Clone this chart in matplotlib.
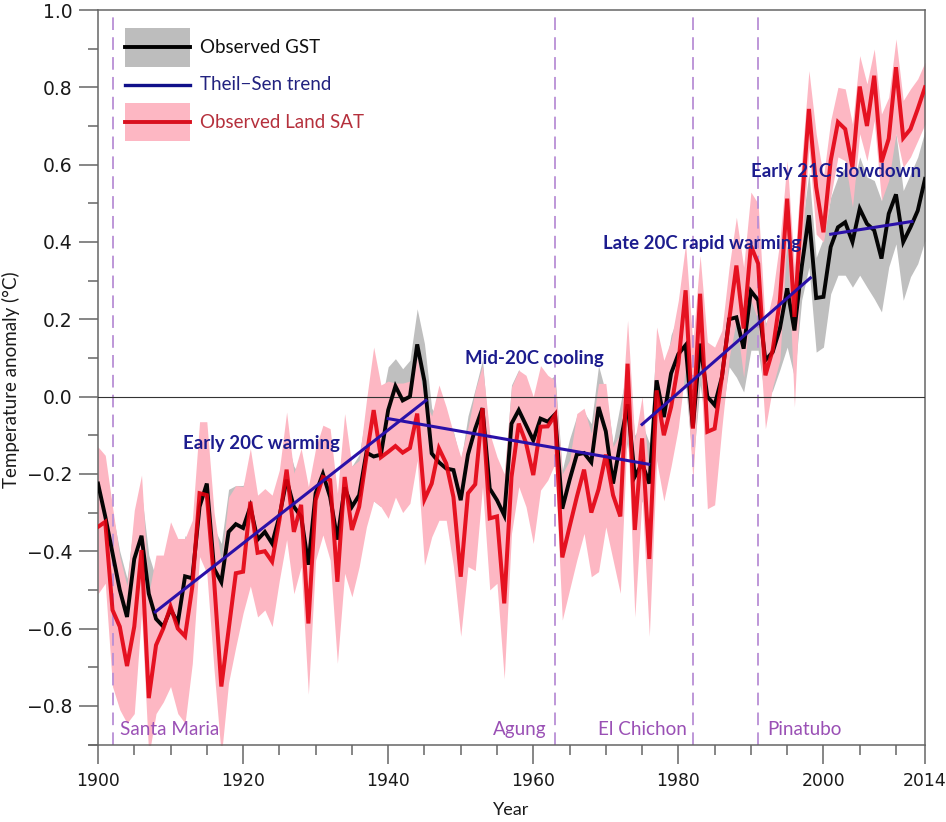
import numpy as np
import matplotlib
matplotlib.use("Agg")
import matplotlib.pyplot as plt
from matplotlib.patches import Rectangle
from matplotlib.ticker import FixedLocator

W, H = 946, 822

years = list(range(1900, 2015))

gst = [-.225, -.31, -.405, -.50, -.57, -.42, -.36, -.51, -.575, -.595,
       -.55, -.585, -.465, -.47, -.285, -.225, -.445, -.48, -.35, -.33,
       -.34, -.285, -.37, -.35, -.38, -.31, -.215, -.285, -.31, -.435,
       -.25, -.20, -.26, -.37, -.235, -.285, -.255, -.145, -.155, -.15,
       -.035, .027, -.01, 0, .135, .04, -.147, -.17, -.186, -.19,
       -.268, -.15, -.083, -.03, -.238, -.268, -.307, -.07, -.035, -.074,
       -.113, -.057, -.065, -.046, -.29, -.216, -.15, -.146, -.17, -.027,
       -.09, -.225, -.12, -.02, -.207, -.173, -.225, .042, -.053, .06,
       .11, .133, -.08, .137, 0, -.022, .05, .20, .205, .124,
       .273, .249, .094, .115, .176, .28, .171, .335, .469, .255,
       .258, .387, .438, .451, .40, .486, .447, .43, .357, .473,
       .523, .40, .438, .481, .563]

gst_upper = [-.13, -.21, -.30, -.40, -.47, -.32, -.25, -.41, -.47, -.49,
             -.44, -.48, -.36, -.37, -.18, -.12, -.34, -.38, -.24, -.23,
             -.23, -.18, -.27, -.24, -.28, -.21, -.11, -.18, -.21, -.33,
             -.15, -.09, -.16, -.27, -.13, -.18, -.15, -.04, -.05, -.02,
             .077, .098, .072, .094, .227, .137, -.03, -.06, -.09, -.09,
             -.17, -.05, .02, .095, -.13, -.17, -.21, .03, .07, .03,
             -.01, .05, .04, .055, -.19, -.11, -.05, -.04, -.07, .08,
             .01, -.12, -.02, .08, -.10, -.07, -.12, .14, .05, .16,
             .21, .23, .02, .24, .10, .08, .15, .30, .31, .22,
             .38, .35, .19, .22, .28, .39, .28, .43, .58, .36,
             .41, .516, .568, .593, .537, .62, .568, .559, .507, .602,
             .68, .533, .576, .62, .688]

gst_lower = [-.32, -.41, -.51, -.60, -.67, -.52, -.46, -.61, -.68, -.70,
             -.65, -.69, -.57, -.57, -.39, -.33, -.55, -.58, -.45, -.43,
             -.44, -.39, -.47, -.45, -.48, -.41, -.32, -.39, -.41, -.54,
             -.35, -.31, -.36, -.47, -.34, -.39, -.36, -.25, -.27, -.285,
             -.14, -.08, -.11, -.10, .03, -.06, -.25, -.27, -.29, -.29,
             -.37, -.25, -.19, -.13, -.34, -.37, -.41, -.17, -.14, -.18,
             -.22, -.16, -.17, -.15, -.39, -.32, -.25, -.25, -.27, -.13,
             -.19, -.33, -.22, -.12, -.31, -.27, -.33, -.06, -.15, -.04,
             .01, .03, -.18, .03, -.10, -.12, -.05, .077, .05, .012,
             .12, .12, -.01, .016, .07, .128, .05, .25, .335, .115,
             .128, .266, .314, .314, .283, .314, .283, .253, .219, .335,
             .395, .249, .31, .344, .404]

land = [-.337, -.324, -.552, -.595, -.697, -.595, -.397, -.78, -.643, -.60,
        -.543, -.60, -.62, -.492, -.25, -.255, -.475, -.75, -.604, -.457,
        -.453, -.272, -.404, -.40, -.427, -.32, -.189, -.35, -.28, -.587,
        -.268, -.208, -.216, -.479, -.208, -.345, -.285, -.156, -.035, -.157,
        -.143, -.128, -.145, -.133, -.044, -.266, -.225, -.134, -.173, -.26,
        -.466, -.25, -.227, -.03, -.315, -.31, -.535, -.208, -.07, -.12,
        -.203, -.078, -.077, -.048, -.416, -.337, -.26, -.189, -.30, -.24,
        -.15, -.255, -.31, .085, -.345, -.108, -.42, .016, -.10, -.027,
        .085, .275, -.083, .266, -.091, -.083, .05, .197, .339, .176,
        .39, .344, .055, .12, .25, .512, .206, .49, .744, .542,
        .425, .61, .71, .692, .593, .802, .70, .83, .606, .667,
        .852, .669, .692, .744, .80]

land_upper = [-.13, -.152, -.285, -.414, -.49, -.294, -.203, -.51, -.41, -.41,
              -.324, -.367, -.367, -.32, -.065, -.065, -.30, -.43, -.26, -.23,
              -.233, -.134, -.255, -.238, -.255, -.19, -.04, -.198, -.134, -.233,
              -.134, -.074, -.083, -.25, -.044, -.18, -.165, -.01, .128, .03,
              .04, .035, .035, .04, .10, -.01, -.05, .03, -.027, -.095,
              -.156, -.08, .016, .08, -.095, -.156, -.20, .025, .068, .055,
              0, .08, .055, .042, -.20, -.165, -.044, -.03, -.095, .034,
              .034, -.13, -.095, .197, -.113, 0, -.207, .18, .094, .146,
              .249, .395, .137, .365, .141, .128, .171, .335, .464, .335,
              .529, .499, .18, .266, .404, .61, .335, .61, .843, .68,
              .568, .714, .80, .796, .705, .882, .809, .899, .731, .774,
              .925, .766, .796, .822, .865]

land_lower = [-.51, -.483, -.75, -.81, -.845, -.82, -.56, -.93, -.82, -.79,
              -.75, -.82, -.845, -.69, -.414, -.457, -.707, -.93, -.74, -.647,
              -.56, -.49, -.57, -.552, -.595, -.475, -.37, -.51, -.44, -.77,
              -.423, -.358, -.423, -.69, -.457, -.518, -.44, -.337, -.27, -.285,
              -.315, -.26, -.30, -.276, -.165, -.436, -.363, -.32, -.32, -.44,
              -.62, -.44, -.45, -.233, -.50, -.483, -.73, -.354, -.233, -.285,
              -.38, -.242, -.216, -.173, -.578, -.50, -.423, -.354, -.466, -.453,
              -.337, -.423, -.509, -.07, -.57, -.26, -.62, -.165, -.27, -.18,
              -.08, .077, -.216, .10, -.29, -.28, -.08, .10, .197, .05,
              .249, .197, -.083, .025, .094, .42, -.027, .37, .645, .42,
              .40, .516, .62, .61, .49, .68, .61, .714, .507, .559,
              .68, .593, .62, .662, .705]

trend_periods = [(1907.9, 1945.2), (1940, 1975.9), (1975, 1998.2), (2001, 2012.2)]
trend_values = [(-.557, -.01), (-.057, -.175), (-.072, .307), (.42, .453)]

volcano_years = [1902, 1963, 1982, 1991]
volcano_names = ["Santa Maria", "Agung", "El Chichon", "Pinatubo"]

fig = plt.figure(figsize=(W / 100, H / 100), dpi=100)
ax = fig.add_axes([98 / W, (H - 744.5) / H, 827 / W, 734.5 / H])
plt.rcParams["font.family"] = ["Lato", "DejaVu Sans"]


def px(x, y):
    # image pixels to axes fraction, for legend and labels
    return (x - 98) / 827, (744.5 - y) / 734.5


ax.fill_between(years, gst_lower, gst_upper, color="#bfbfbf", lw=0, zorder=1)
ax.fill_between(years, land_lower, land_upper, color="#fdb7c3", lw=0, zorder=2)

for v in volcano_years:
    ax.axvline(v, color="#b98fd6", lw=1.3, dashes=(7, 4), zorder=2.5)

ax.axhline(0, color="#333333", lw=0.8, zorder=3)
ax.plot(years, gst, color="#050505", lw=2.8, zorder=4, solid_joinstyle="miter")
ax.plot(years, land, color="#e3000f", lw=2.9, alpha=0.9, zorder=5, solid_joinstyle="miter")

for (x0, x1), (y0, y1) in zip(trend_periods, trend_values):
    ax.plot([x0, x1], [y0, y1], color="#2a10a8", lw=2.2, zorder=6)

ax.set_xlim(1900, 2014)
ax.set_ylim(-0.9, 1.0)

for s in ax.spines.values():
    s.set_color("#666666")
    s.set_linewidth(1.1)
ax.spines["bottom"].set_bounds(1900 - 9 / 7.25, 2014)
ax.spines["bottom"].set_clip_on(False)

ax.xaxis.set_major_locator(FixedLocator([1900, 1920, 1940, 1960, 1980, 2000, 2014]))
ax.xaxis.set_minor_locator(FixedLocator(list(range(1905, 2014, 5))))
ax.yaxis.set_major_locator(FixedLocator(np.arange(-8, 11, 2) / 10))
ax.yaxis.set_minor_locator(FixedLocator(np.arange(-9, 10, 2) / 10))
ax.set_yticklabels(["\u22120.8", "\u22120.6", "\u22120.4", "\u22120.2", "0.0", "0.2", "0.4", "0.6", "0.8", "1.0"])
ax.tick_params(axis="both", which="major", length=13.5, width=1.1, color="#666666",
               labelsize=13.5, labelcolor="#1a1a1a", pad=5)
ax.tick_params(axis="both", which="minor", length=7, width=1.1, color="#666666")
ax.tick_params(axis="x", which="major", pad=6, labelsize=12.4)

fig.text(11 / W, 1 - 380 / H, "Temperature anomaly (\u00b0C)", rotation=90, ha="center", va="center",
         fontsize=13.5, color="#1a1a1a")
fig.text(511 / W, 1 - 810 / H, "Year", ha="center", va="center", fontsize=13, color="#1a1a1a")

# legend
ax.add_patch(Rectangle(px(125, 67), 65 / 827, 39 / 734.5, transform=ax.transAxes,
                       color="#bdbdbd", lw=0, zorder=7))
ax.add_patch(Rectangle(px(125, 141), 65 / 827, 38 / 734.5, transform=ax.transAxes,
                       color="#fdb7c3", lw=0, zorder=7))
for ly, c, lw in [(47.5, "#000000", 2.8), (85, "#10108a", 2.4), (122, "#d9101f", 2.8)]:
    x0, yy = px(125, ly)
    x1, _ = px(190, ly)
    ax.plot([x0, x1], [yy, yy], color=c, lw=lw, transform=ax.transAxes, zorder=8)
for ly, s, c in [(47.5, "Observed GST", "#111111"), (85, "Theil\u2212Sen trend", "#22227f"),
                 (122, "Observed Land SAT", "#b5303c")]:
    x0, yy = px(200, ly)
    ax.text(x0, yy, s, transform=ax.transAxes, ha="left", va="center", fontsize=13.5, color=c, zorder=8)

# trend names
for tx, ty, s in [(183, 443, "Early 20C warming"), (465, 358, "Mid-20C cooling"),
                  (603, 243, "Late 20C rapid warming"), (751, 172, "Early 21C slowdown")]:
    x0, yy = px(tx, ty)
    ax.text(x0, yy, s, transform=ax.transAxes, ha="left", va="center", fontsize=13.4,
            fontweight="bold", color="#1c1c8e", zorder=9)

# volcano names
for tx, s in zip([120, 493, 598, 767], volcano_names):
    x0, yy = px(tx, 729)
    ax.text(x0, yy, s, transform=ax.transAxes, ha="left", va="center", fontsize=13.6,
            color="#9a50b5", zorder=9)

fig.savefig("out.png", dpi=100, facecolor="white")
